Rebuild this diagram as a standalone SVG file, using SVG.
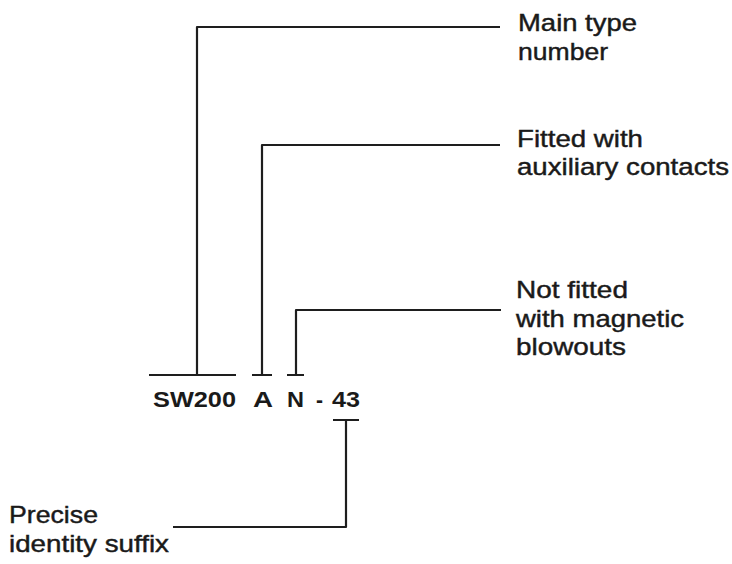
<svg xmlns="http://www.w3.org/2000/svg" width="732" height="564" viewBox="0 0 732 564">
<style>
.bg{fill:#ffffff}
.ln{fill:none;stroke:#1e1e1e;stroke-width:2.2;stroke-linejoin:round;stroke-linecap:butt}
.lbl{font-family:"Liberation Sans",Arial,sans-serif;font-size:24.5px;fill:#1a1a1a;stroke:#1a1a1a;stroke-width:0.45}
.code{font-family:"Liberation Sans",Arial,sans-serif;font-size:22px;font-weight:bold;fill:#1a1a1a}
</style>
<rect class="bg" x="0" y="0" width="732" height="564"/>
<g id="connectors">
<path class="ln" d="M149,375 H236 M197,375 V27 H500"/>
<path class="ln" d="M252,375 H272 M262,375 V145 H500"/>
<path class="ln" d="M287,375 H304 M296,375 V310 H501"/>
<path class="ln" d="M333,420 H359 M346,420 V527 H173"/>
</g>
<g id="code">
<text class="code" y="407"><tspan x="153" textLength="83" lengthAdjust="spacingAndGlyphs">SW200</tspan> <tspan x="253" textLength="19" lengthAdjust="spacingAndGlyphs">A</tspan> <tspan x="287" textLength="17" lengthAdjust="spacingAndGlyphs">N</tspan> <tspan x="316" textLength="7" lengthAdjust="spacingAndGlyphs">-</tspan> <tspan x="332" textLength="28" lengthAdjust="spacingAndGlyphs">43</tspan></text>
</g>
<g id="main-type">
<text class="lbl" x="518" y="31" textLength="119" lengthAdjust="spacingAndGlyphs">Main type</text>
<text class="lbl" x="518" y="60" textLength="90" lengthAdjust="spacingAndGlyphs">number</text>
</g>
<g id="aux-contacts">
<text class="lbl" x="517" y="147" textLength="126" lengthAdjust="spacingAndGlyphs">Fitted with</text>
<text class="lbl" x="517" y="175" textLength="212" lengthAdjust="spacingAndGlyphs">auxiliary contacts</text>
</g>
<g id="blowouts">
<text class="lbl" x="516" y="298" textLength="112" lengthAdjust="spacingAndGlyphs">Not fitted</text>
<text class="lbl" x="516" y="327" textLength="168" lengthAdjust="spacingAndGlyphs">with magnetic</text>
<text class="lbl" x="516" y="355" textLength="110" lengthAdjust="spacingAndGlyphs">blowouts</text>
</g>
<g id="suffix">
<text class="lbl" x="9" y="523" textLength="89" lengthAdjust="spacingAndGlyphs">Precise</text>
<text class="lbl" x="9" y="552" textLength="160" lengthAdjust="spacingAndGlyphs">identity suffix</text>
</g>
</svg>
